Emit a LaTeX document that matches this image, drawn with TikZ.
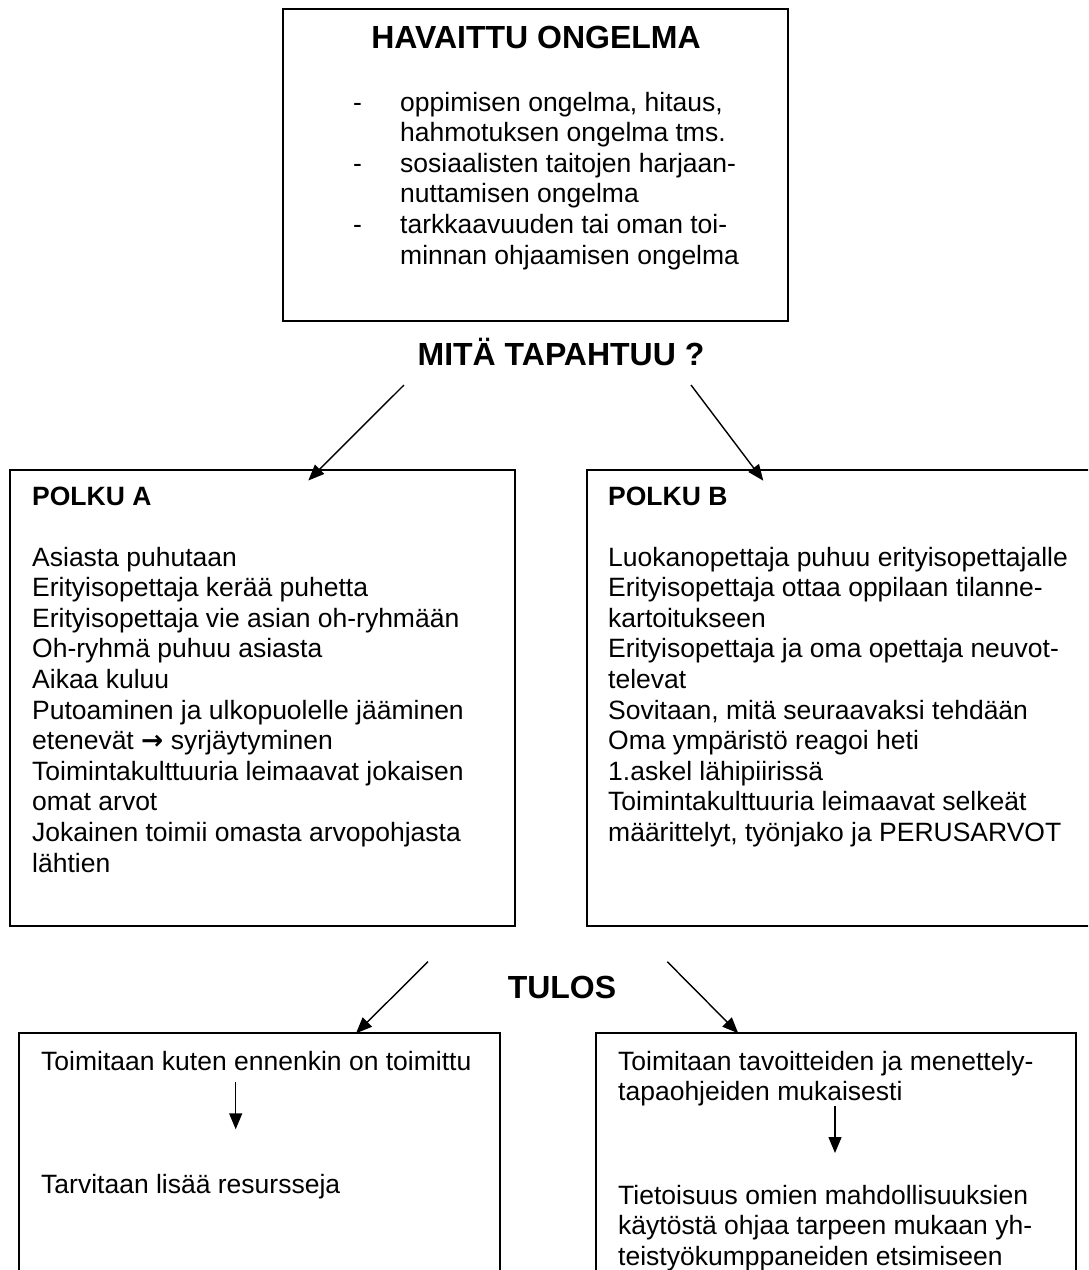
\documentclass[tikz,border=0pt]{standalone}
\usepackage{fontspec}
\setmainfont{Liberation Sans}
\newfontfamily\arrowfont{DejaVu Sans}
\usetikzlibrary{arrows.meta}
\tikzset{
  box/.style={draw, line width=1.8pt, inner sep=0pt, rectangle},
  txt/.style={inner sep=0pt, anchor=base west, font=\fontsize{26.5}{30.6}\selectfont},
  ttl/.style={inner sep=0pt, anchor=base, font=\bfseries\fontsize{32}{36}\selectfont},
  sub/.style={inner sep=0pt, anchor=base west, font=\bfseries\fontsize{26.5}{30.6}\selectfont},
  arr/.style={-{Triangle[length=16pt,width=13pt]}, line width=1.4pt},
}
\newcommand{\lines}[1]{\parbox[t]{620pt}{\fontsize{26.5}{30.6}\selectfont #1}}
\begin{document}
\begin{tikzpicture}[x=1pt,y=-1pt]
\useasboundingbox (0,0) rectangle (1088,1270);
\fill[white] (0,0) rectangle (1088,1270);
\clip (0,0) rectangle (1088,1270);

% boxes
\node[box, minimum width=505pt, minimum height=312pt] (top) at (535.5,165) {};
\node[box, minimum width=505pt, minimum height=456pt] (pa) at (262.75,698) {};
\node[box, minimum width=530pt, minimum height=456pt] (pb) at (852,698) {};
\node[box, minimum width=481pt, minimum height=260pt] (ra) at (259.5,1163) {};
\node[box, minimum width=480pt, minimum height=260pt] (rb) at (836,1163) {};

% top box text
\node[ttl] (toptitle) at (536,48.3) {HAVAITTU ONGELMA};
\node[txt] (d1) at (353,111) {-};
\node[txt] (d2) at (353,172) {-};
\node[txt] (d3) at (353,233) {-};
\node[txt] (toplist) at (400,111) {\lines{oppimisen ongelma, hitaus,\\
hahmotuksen ongelma tms.\\
sosiaalisten taitojen harjaan-\\
nuttamisen ongelma\\
tarkkaavuuden tai oman toi-\\
minnan ohjaamisen ongelma}};

\node[ttl] (mita) at (561,365) {MITÄ TAPAHTUU ?};

% Polku A
\node[sub] (patitle) at (32,505) {POLKU A};
\node[txt] (patext) at (32,566) {\lines{Asiasta puhutaan\\
Erityisopettaja kerää puhetta\\
Erityisopettaja vie asian oh-ryhmään\\
Oh-ryhmä puhuu asiasta\\
Aikaa kuluu\\
Putoaminen ja ulkopuolelle jääminen\\
etenevät {\arrowfont\bfseries →} syrjäytyminen\\
Toimintakulttuuria leimaavat jokaisen\\
omat arvot\\
Jokainen toimii omasta arvopohjasta\\
lähtien}};

% Polku B
\node[sub] (pbtitle) at (608,505) {POLKU B};
\node[txt] (pbtext) at (608,566) {\lines{Luokanopettaja puhuu erityisopettajalle\\
Erityisopettaja ottaa oppilaan tilanne-\\
kartoitukseen\\
Erityisopettaja ja oma opettaja neuvot-\\
televat\\
Sovitaan, mitä seuraavaksi tehdään\\
Oma ympäristö reagoi heti\\
1.askel lähipiirissä\\
Toimintakulttuuria leimaavat selkeät\\
määrittelyt, työnjako ja PERUSARVOT}};

\node[ttl] (tulos) at (562,998) {TULOS};

% result A
\node[txt] (ra1) at (41,1070) {Toimitaan kuten ennenkin on toimittu};
\node[txt] (ra2) at (41,1193) {Tarvitaan lisää resursseja};

% result B
\node[txt] (rb1) at (618,1070) {\lines{Toimitaan tavoitteiden ja menettely-\\
tapaohjeiden mukaisesti}};
\node[txt] (rb2) at (618,1204) {\lines{Tietoisuus omien mahdollisuuksien\\
käytöstä ohjaa tarpeen mukaan yh-\\
teistyökumppaneiden etsimiseen}};

% connector coordinates
\coordinate (mA) at (404,385);
\coordinate (mB) at (691,385);
\coordinate (paIn) at (308.3,480.5);
\coordinate (pbIn) at (763.3,480.7);
\coordinate (tA) at (428,961.7);
\coordinate (tB) at (667.3,961.7);
\coordinate (raIn) at (356,1033.3);
\coordinate (rbIn) at (738.3,1033.3);
\coordinate (ra1b) at (235.7,1081.7);
\coordinate (ra2t) at (235.7,1129.3);
\coordinate (rb1b) at (835,1106);
\coordinate (rb2t) at (835,1153);

\draw[arr] (mA) -- (paIn);
\draw[arr] (mB) -- (pbIn);
\draw[arr] (tA) -- (raIn);
\draw[arr] (tB) -- (rbIn);
\draw[arr] (ra1b) -- (ra2t);
\draw[arr] (rb1b) -- (rb2t);
\end{tikzpicture}
\end{document}
